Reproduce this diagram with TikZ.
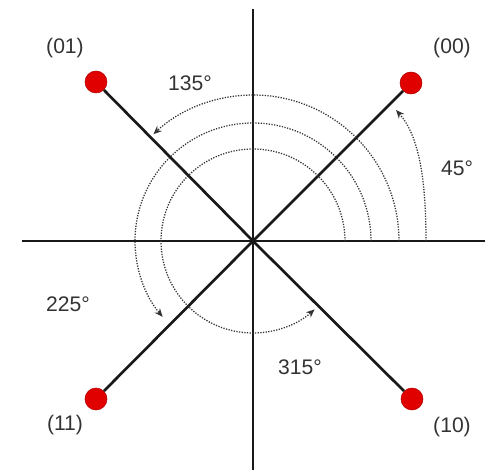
\documentclass[tikz,border=0pt]{standalone}
\usepackage{fontspec}
\setmainfont{Liberation Sans}
\usetikzlibrary{arrows.meta,positioning}
\definecolor{dotred}{rgb}{0.88,0.0,0.0}
\definecolor{labelgray}{rgb}{0.2,0.2,0.2}

\begin{document}
\begin{tikzpicture}[
  x=0.025cm, y=0.025cm,
  axis/.style={line width=1.9pt, black!90},
  spoke/.style={line width=1.9pt, black!90},
  symdot/.style={circle, fill=dotred, draw=red!70!black, line width=0.4pt,
                 minimum size=0.55cm, inner sep=0pt},
  lbl/.style={font=\fontsize{15}{17}\selectfont, text=labelgray},
  turn/.style={densely dotted, line width=0.9pt, black!80, -{Stealth[length=6pt,width=5pt]}}
]
  \useasboundingbox (-253,-231) rectangle (239,241);

  % Achsen
  \coordinate (o) at (0,0);
  \draw[axis] (-231,0) -- (232,0);
  \draw[axis] (0,232) -- (0,-229);

  % Symbole
  \node[symdot] (s00) at (158,158) {};
  \node[symdot] (s01) at (-157,159) {};
  \node[symdot] (s11) at (-157,-158) {};
  \node[symdot] (s10) at (159,-158) {};

  \draw[spoke] (o) -- (s00);
  \draw[spoke] (o) -- (s01);
  \draw[spoke] (o) -- (s11);
  \draw[spoke] (o) -- (s10);

  % Bezeichnungen
  \node[lbl] (l00) at (199,193) {(00)};
  \node[lbl] (l01) at (-188,193) {(01)};
  \node[lbl] (l11) at (-188,-184) {(11)};
  \node[lbl] (l10) at (199,-186) {(10)};

  % Winkel
  \node[lbl] (a45)  at (204,73)   {45°};
  \node[lbl] (a135) at (-63,158)  {135°};
  \node[lbl] (a225) at (-185,-63) {225°};
  \node[lbl] (a315) at (47,-126)  {315°};

  \draw[turn] (173,0) .. controls (173,62) and (166,105) .. (143,131);
  \draw[turn] (146,0) arc[start angle=0, end angle=133, radius=146];
  \draw[turn] (118,0) arc[start angle=0, end angle=220, radius=118];
  \draw[turn] (92,0) arc[start angle=0, end angle=312, radius=92];
\end{tikzpicture}
\end{document}
